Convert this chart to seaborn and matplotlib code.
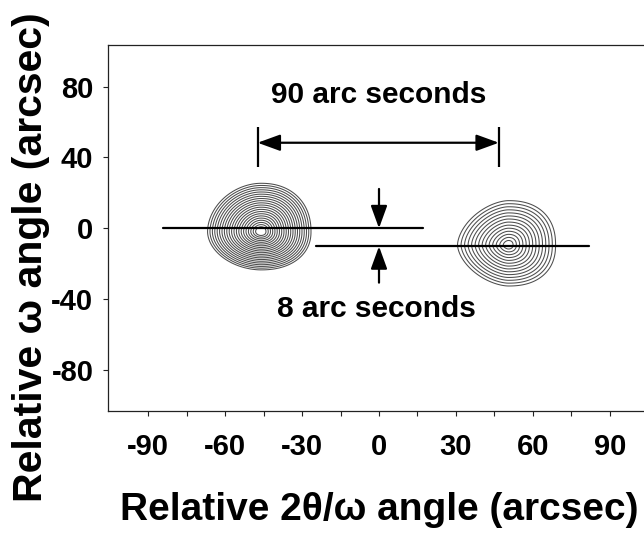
import numpy as np
import pandas as pd
import matplotlib
matplotlib.use("Agg")
import matplotlib.pyplot as plt
import seaborn as sns

# ---- data ----
peak_names = ["layer", "substrate"]
peak_x = [-46.0, 50.4]          # centre, 2theta/omega (arcsec)
peak_y = [-1.9, -9.4]           # centre, omega (arcsec)
peak_left = [20.8, 19.8]        # extent to the left of centre
peak_right = [19.5, 18.4]       # extent to the right
peak_up = [27.3, 25.0]          # extent upward
peak_down = [21.6, 23.2]        # extent downward
peak_shape_left = [1.9, 1.7]    # roundness of left flank
peak_shape_right = [2.2, 2.3]   # roundness of right flank
peak_rings = [21, 14]           # number of contour rings

ref_line_y = [0.0, -10.2]
ref_line_x0 = [-84.2, -24.5]
ref_line_x1 = [17.0, 82.0]

sep_bar_x = [-47.3, 46.7]
sep_bar_y0 = 34.4
sep_bar_y1 = 57.4
sep_arrow_y = 48.3

split_arrow_x = 0.0
split_arrow_top = [22.2, 0.0]
split_arrow_bottom = [-30.7, -10.2]

label_90 = "90 arc seconds"
label_90_pos = (0.0, 75.5)
label_8 = "8 arc seconds"
label_8_pos = (-1.0, -45.4)

x_major = [-90, -60, -30, 0, 30, 60, 90]
x_minor = [-75, -45, -15, 15, 45, 75]
y_ticks = [-80, -40, 0, 40, 80]

sns.set_style("ticks")
plt.rcParams["font.family"] = ["Liberation Sans", "DejaVu Sans"]
plt.rcParams["font.weight"] = "bold"
plt.rcParams["text.color"] = "black"
plt.rcParams["axes.labelcolor"] = "black"
plt.rcParams["xtick.color"] = "black"
plt.rcParams["ytick.color"] = "black"

fig = plt.figure(figsize=(6.44, 5.33), dpi=100)
ax = fig.add_axes([108 / 644, 122 / 533, 542 / 644, 366 / 533])

# ---- contour rings ----
gx = np.linspace(-110, 110, 881)
gy = np.linspace(-110, 110, 881)
X, Y = np.meshgrid(gx, gy)
for i in range(len(peak_names)):
    dx = X - peak_x[i]
    dy = Y - peak_y[i]
    u = np.where(dx < 0, -dx / peak_left[i], dx / peak_right[i])
    v = np.where(dy < 0, -dy / peak_down[i], dy / peak_up[i])
    p = np.where(dx < 0, peak_shape_left[i], peak_shape_right[i])
    R = (u ** p + v ** p) ** (1.0 / p)
    levels = np.linspace(0.1, 1.0, peak_rings[i])
    ax.contour(X, Y, R, levels=levels, colors="#4d4d4d", linewidths=0.75)

# ---- reference lines ----
lines_df = pd.DataFrame({
    "x": ref_line_x0 + ref_line_x1,
    "y": ref_line_y + ref_line_y,
    "line": [0, 1, 0, 1],
})
sns.lineplot(data=lines_df, x="x", y="y", units="line", estimator=None,
             color="black", lw=1.6, ax=ax, legend=False, sort=False)

# separation bars
for bx in sep_bar_x:
    ax.plot([bx, bx], [sep_bar_y0, sep_bar_y1], color="black", lw=1.6,
            solid_capstyle="butt")
arrow_kw = dict(arrowstyle="-|>,head_length=0.55,head_width=0.2",
                mutation_scale=25, lw=1.6, color="black",
                shrinkA=0, shrinkB=0)
ax.annotate("", xy=(sep_bar_x[0], sep_arrow_y), xytext=(sep_bar_x[1], sep_arrow_y),
            arrowprops=dict(arrowstyle="<|-|>,head_length=0.55,head_width=0.2",
                            mutation_scale=25, lw=1.6, color="black",
                            shrinkA=0, shrinkB=0))
ax.annotate("", xy=(split_arrow_x, split_arrow_top[1]),
            xytext=(split_arrow_x, split_arrow_top[0]), arrowprops=arrow_kw)
ax.annotate("", xy=(split_arrow_x, split_arrow_bottom[1]),
            xytext=(split_arrow_x, split_arrow_bottom[0]), arrowprops=arrow_kw)

ax.text(*label_90_pos, label_90, ha="center", va="center", fontsize=21.5,
        fontweight="bold", color="black")
ax.text(*label_8_pos, label_8, ha="center", va="center", fontsize=21.5,
        fontweight="bold", color="black")

# ---- axes ----
ax.set_xlim(-105.6, 105.6)
ax.set_ylim(-103.2, 103.5)
ax.set_xticks(x_major)
ax.set_xticks(x_minor, minor=True)
ax.set_yticks(y_ticks)
ax.set_xticklabels([str(v) for v in x_major])
ax.set_yticklabels([str(v) for v in y_ticks])
ax.tick_params(axis="both", which="both", direction="out", length=3.5,
               width=0.8, color="#222222", labelsize=21, labelcolor="black")
ax.tick_params(axis="x", which="both", pad=12)
ax.tick_params(axis="y", pad=7)
for t in ax.get_xticklabels() + ax.get_yticklabels():
    t.set_fontweight("bold")
for s in ax.spines.values():
    s.set_visible(True)
    s.set_linewidth(0.9)
    s.set_color("#222222")

ax.set_xlabel("Relative 2θ/ω angle (arcsec)", fontsize=28, fontweight="bold",
              va="center", color="black")
ax.xaxis.set_label_coords(0.5, -0.2705)
ax.set_ylabel("Relative ω angle (arcsec)", fontsize=29.5, fontweight="bold",
              va="center", color="black")
ax.yaxis.set_label_coords(-0.142, 0.42)

fig.savefig("out.png", dpi=100)
